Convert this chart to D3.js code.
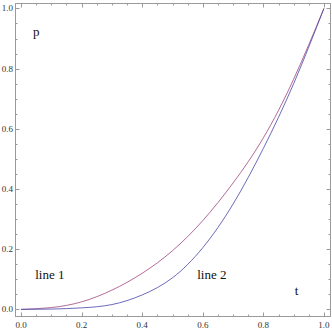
<!DOCTYPE html>
<style>
body { margin: 0; background: #fff; }
svg { display: block; font-family: "Liberation Serif", "DejaVu Serif", serif; }
</style>
<svg width="332" height="331"></svg>
<script src="https://d3js.org/d3.v7.min.js"></script>
<script>
const tValues = [0, 0.1, 0.2, 0.3, 0.4, 0.5, 0.6, 0.7, 0.8, 0.9, 1.0];
const line1 = [0, 0.006, 0.025, 0.064, 0.12, 0.195, 0.295, 0.42, 0.57, 0.765, 1.0];
const line2 = [0, 0.001, 0.005, 0.016, 0.048, 0.105, 0.205, 0.35, 0.535, 0.75, 1.0];
const majorTicks = [0, 0.2, 0.4, 0.6, 0.8, 1.0];
const labels = [
	{text: 'p', t: 0.05, p: 0.92},
	{text: 'line 1', t: 0.095, p: 0.115},
	{text: 'line 2', t: 0.63, p: 0.115},
	{text: 't', t: 0.91, p: 0.06}
];

const svg = d3.select("svg"),
      frame = {left: 15, right: 330, top: 3, bottom: 316};

const xScale = d3.scaleLinear().domain([-0.02, 1.02]).range([frame.left, frame.right]),
      yScale = d3.scaleLinear().domain([-0.022, 1.018]).range([frame.bottom, frame.top]);

const minorTicks = d3.range(0, 1.001, 0.05).filter(v => !majorTicks.some(m => Math.abs(m - v) < 1e-6));
const frameColor = '#9a9a9a';

// frame
svg.append('rect')
	.attr('x', frame.left + 0.5)
	.attr('y', frame.top + 0.5)
	.attr('width', frame.right - frame.left)
	.attr('height', frame.bottom - frame.top)
	.attr('fill', 'none')
	.attr('stroke', frameColor);

const ticks = svg.append('g').attr('stroke', frameColor).attr('stroke-width', 1);
function addTicks(vals, len) {
	vals.forEach(v => {
		const x = Math.round(xScale(v)) + 0.5, y = Math.round(yScale(v)) + 0.5;
		ticks.append('line').attr('x1', x).attr('x2', x).attr('y1', frame.bottom + 0.5).attr('y2', frame.bottom + 0.5 - len);
		ticks.append('line').attr('x1', x).attr('x2', x).attr('y1', frame.top + 0.5).attr('y2', frame.top + 0.5 + len);
		ticks.append('line').attr('y1', y).attr('y2', y).attr('x1', frame.left + 0.5).attr('x2', frame.left + 0.5 + len);
		ticks.append('line').attr('y1', y).attr('y2', y).attr('x1', frame.right + 0.5).attr('x2', frame.right + 0.5 - len);
	});
}
addTicks(majorTicks, 4);
addTicks(minorTicks, 2);

// tick labels
svg.append('g').selectAll('text')
	.data(majorTicks).enter().append('text')
	.attr('x', d => xScale(d))
	.attr('y', frame.bottom + 12)
	.attr('text-anchor', 'middle')
	.attr('font-size', 9)
	.attr('fill', '#333')
	.text(d3.format('.1f'));

svg.append('g').selectAll('text')
	.data(majorTicks).enter().append('text')
	.attr('x', frame.left - 2)
	.attr('y', d => yScale(d) + 3)
	.attr('text-anchor', 'end')
	.attr('font-size', 9)
	.attr('fill', '#333')
	.text(d3.format('.1f'));

const line = d3.line()
	.x((d, i) => xScale(tValues[i]))
	.y(d => yScale(d))
	.curve(d3.curveNatural);

svg.append('path')
	.attr('fill', 'none')
	.attr('stroke', 'rgb(160,70,125)')
	.attr('stroke-opacity', 0.8)
	.attr('d', line(line1));

svg.append('path')
	.attr('fill', 'none')
	.attr('stroke', 'rgb(70,70,170)')
	.attr('stroke-opacity', 0.8)
	.attr('d', line(line2));

svg.append('g').selectAll('text')
	.data(labels).enter().append('text')
	.attr('x', d => xScale(d.t))
	.attr('y', d => yScale(d.p) + 4)
	.attr('text-anchor', 'middle')
	.attr('font-size', 13)
	.attr('fill', '#111')
	.text(d => d.text);
</script>
